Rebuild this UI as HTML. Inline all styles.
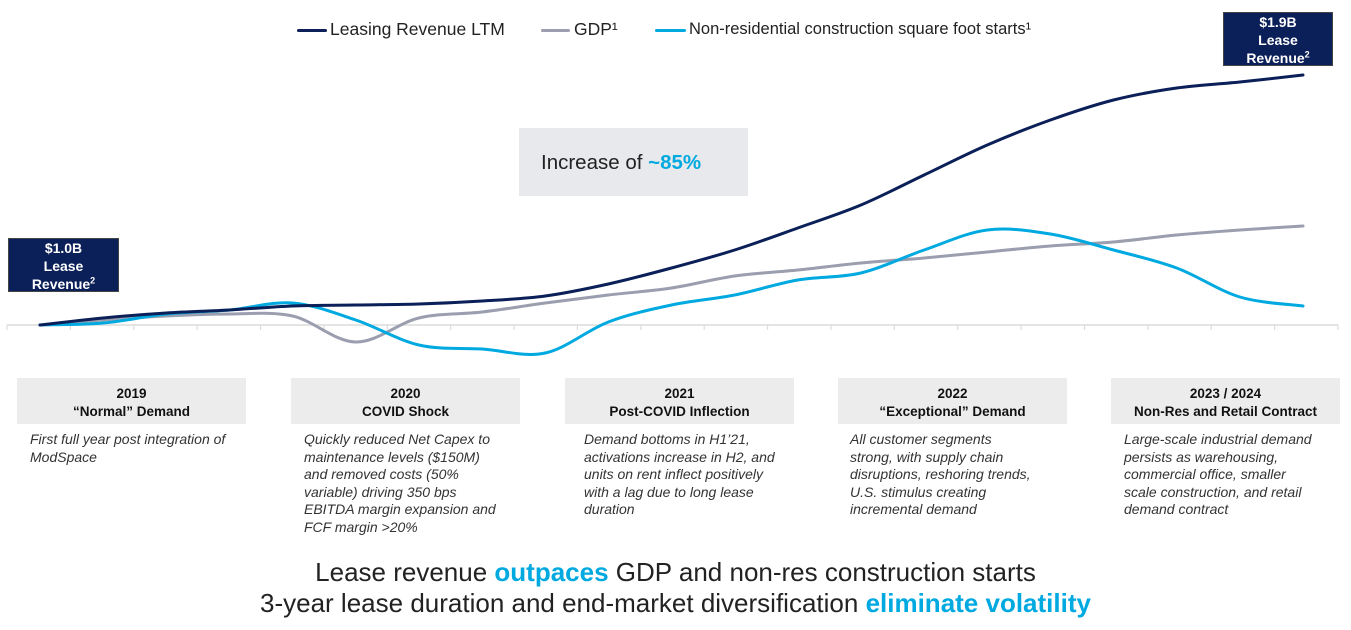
<!DOCTYPE html>
<html><head><meta charset="utf-8"><style>
body{margin:0;width:1351px;height:630px;background:#fff;font-family:"Liberation Sans",Arial,sans-serif;position:relative;overflow:hidden}
.abs{position:absolute}
.hdr{position:absolute;top:378px;height:46px;width:229px;background:#ececec;text-align:center;font-weight:bold;font-size:13.5px;line-height:18px;padding-top:7px;box-sizing:border-box;color:#111}
.desc{position:absolute;top:431px;width:200px;font-style:italic;font-size:14px;line-height:17.6px;color:#333}
.tag{position:absolute;background:#0b1f58;color:#fff;font-weight:bold;font-size:14px;text-align:center;line-height:18px;padding-top:0px;box-sizing:border-box;border:1px solid #444}
.leg{position:absolute;top:19px;font-size:17.5px;color:#222}
.legl{position:absolute;top:29px;height:3px;border-radius:2px}
.bot{position:absolute;left:0;width:1351px;text-align:center;font-size:26px;color:#222}
.hl{color:#00a9e0;font-weight:bold}
</style></head><body>
<div class="legl" style="left:297px;width:30px;background:#0b1f58"></div>
<div class="leg" style="left:330px">Leasing Revenue LTM</div>
<div class="legl" style="left:541px;width:29px;background:#9a9eae"></div>
<div class="leg" style="left:574px">GDP¹</div>
<div class="legl" style="left:655px;width:31px;background:#00a9e0"></div>
<div class="leg" style="left:689px;font-size:16.5px;top:20px">Non-residential construction square foot starts¹</div>

<div class="tag" style="left:8px;top:238px;width:111px;height:54px">$1.0B<br>Lease<br>Revenue<sup style="font-size:9px;line-height:0">2</sup></div>
<div class="tag" style="left:1223px;top:12px;width:110px;height:54px">$1.9B<br>Lease<br>Revenue<sup style="font-size:9px;line-height:0">2</sup></div>
<div class="abs" style="left:519px;top:128px;width:229px;height:68px;background:#e8e9ec;font-size:20.5px;line-height:70px;padding-left:22px;box-sizing:border-box;color:#222">Increase of <span class="hl">~85%</span></div>

<svg class="abs" style="left:0;top:0" width="1351" height="370">
<g id="axis"></g><g id="lines"></g>
</svg>

<div class="hdr" style="left:17px">2019<br>“Normal” Demand</div>
<div class="hdr" style="left:291px">2020<br>COVID Shock</div>
<div class="hdr" style="left:565px">2021<br>Post-COVID Inflection</div>
<div class="hdr" style="left:838px">2022<br>“Exceptional” Demand</div>
<div class="hdr" style="left:1111px">2023 / 2024<br>Non-Res and Retail Contract</div>

<div class="desc" style="left:30px;width:212px">First full year post integration of ModSpace</div>
<div class="desc" style="left:304px">Quickly reduced Net Capex to maintenance levels ($150M) and removed costs (50% variable) driving 350 bps EBITDA margin expansion and FCF margin &gt;20%</div>
<div class="desc" style="left:584px;width:205px">Demand bottoms in H1’21, activations increase in H2, and units on rent inflect positively with a lag due to long lease duration</div>
<div class="desc" style="left:850px;width:188px">All customer segments strong, with supply chain disruptions, reshoring trends, U.S. stimulus creating incremental demand</div>
<div class="desc" style="left:1124px;width:192px">Large-scale industrial demand persists as warehousing, commercial office, smaller scale construction, and retail demand contract</div>

<div class="bot" style="top:557px">Lease revenue <span class="hl">outpaces</span> GDP and non-res construction starts</div>
<div class="bot" style="top:588px">3-year lease duration and end-market diversification <span class="hl">eliminate volatility</span></div>

<script>
// values as index relative to start (start = 100)
const periods = ["2019a","2019b","2019c","2019d","2020a","2020b","2020c","2020d","2021a","2021b","2021c","2021d","2022a","2022b","2022c","2022d","2023a","2023b","2023c","2024a","2024b"];
const leasing = [100,102.8,104.8,106,107.6,108,108.4,109.6,111.6,116.4,122.8,130,138.8,148,160,172,182,190,194.8,197.2,200];
const gdp = [100,102,103.6,104.4,103.6,93.2,102.8,105.2,108.8,112,114.8,119.6,122,124.8,126.8,129.2,131.6,133.2,136,138,139.6];
const construction = [100,100.8,104.4,106,108.8,102,92,90.4,88.8,101.2,108,112,118,120.8,130,138,136.4,130,122.8,111.2,107.6];
const x0=40,x1=1303,yBase=325,pxPerUnit=2.5;
const X=i=>x0+(x1-x0)*i/(periods.length-1);
const Y=v=>yBase-(v-100)*pxPerUnit;
const NS="http://www.w3.org/2000/svg";
const ax=document.getElementById('axis');
const base=document.createElementNS(NS,'line');


base.setAttribute('x1',7);base.setAttribute('x2',1338);base.setAttribute('y1',325);base.setAttribute('y2',325);
base.setAttribute('stroke','#dcdcdc');base.setAttribute('stroke-width','1.5');ax.appendChild(base);
for(let k=0;k<=21;k++){const tx=7+k*(1338-7)/21;
 const t=document.createElementNS(NS,'line');
 
 
 t.setAttribute('x1',tx);t.setAttribute('x2',tx);t.setAttribute('y1',325);t.setAttribute('y2',330);
 t.setAttribute('stroke','#dcdcdc');t.setAttribute('stroke-width','1.2');ax.appendChild(t);}
function path(vals){const p=vals.map((v,i)=>[X(i),Y(v)]);let d=`M${p[0][0]},${p[0][1]}`;
 for(let i=0;i<p.length-1;i++){const a=p[Math.max(i-1,0)],b=p[i],c=p[i+1],e=p[Math.min(i+2,p.length-1)];
 d+=` C${b[0]+(c[0]-a[0])/6},${b[1]+(c[1]-a[1])/6} ${c[0]-(e[0]-b[0])/6},${c[1]-(e[1]-b[1])/6} ${c[0]},${c[1]}`;}return d;}
const L=document.getElementById('lines');
[[gdp,'#9a9eae','gdp-line'],[construction,'#00a9e0','construction-line'],[leasing,'#0b1f58','leasing-revenue-line']].forEach(([v,c,n])=>{
 const el=document.createElementNS(NS,'path');
 
 
 el.setAttribute('d',path(v));el.setAttribute('fill','none');el.setAttribute('stroke',c);el.setAttribute('stroke-width','3');el.setAttribute('stroke-linecap','round');L.appendChild(el);});
</script>
</body></html>
